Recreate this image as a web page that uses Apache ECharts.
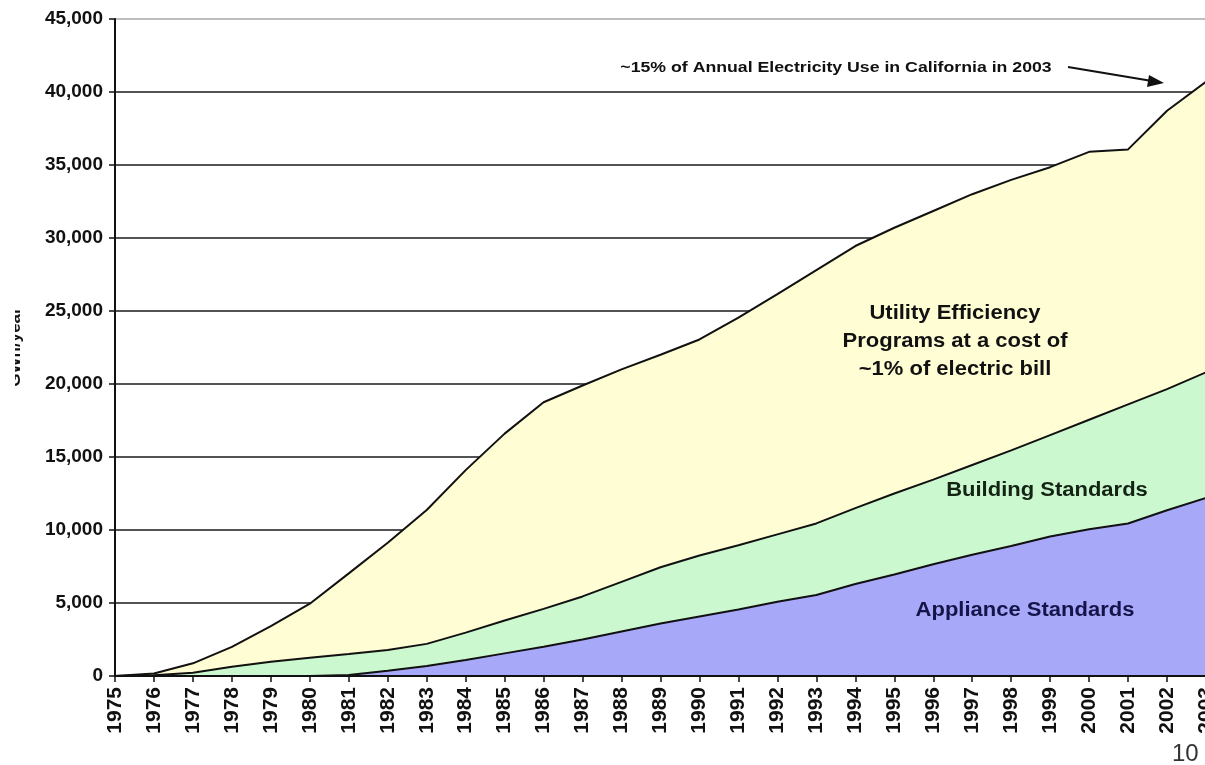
<!DOCTYPE html>
<html>
<head>
<meta charset="utf-8">
<script src="https://cdn.jsdelivr.net/npm/echarts@6/dist/echarts.min.js"></script>
<style>
  html, body { margin: 0; padding: 0; background: #ffffff; }
  #chart { width: 1205px; height: 765px; }
</style>
</head>
<body>
<div id="chart"></div>
<script>
// ---- Data (GWh/year, cumulative savings) ----
const years = ['1975','1976','1977','1978','1979','1980','1981','1982','1983','1984',
  '1985','1986','1987','1988','1989','1990','1991','1992','1993','1994',
  '1995','1996','1997','1998','1999','2000','2001','2002','2003'];

// Top boundary: total savings (appliance + building + utility programs)
const totalSavings = [0, 170, 870, 2000, 3420, 4950, 7030, 9130, 11370, 14100,
  16600, 18750, 19900, 21000, 22000, 23050, 24550, 26150, 27800, 29450,
  30700, 31850, 33000, 33980, 34850, 35900, 36070, 38720, 40700];

// Middle boundary: appliance + building standards
const standardsSavings = [0, 50, 230, 640, 980, 1250, 1500, 1780, 2200, 2970,
  3800, 4600, 5450, 6450, 7450, 8250, 8950, 9700, 10450, 11500,
  12500, 13450, 14450, 15450, 16500, 17550, 18600, 19650, 20800];

// Bottom boundary: appliance standards
const applianceSavings = [0, 0, 0, 0, 0, 0, 70, 360, 690, 1100,
  1550, 2000, 2500, 3050, 3600, 4080, 4550, 5080, 5550, 6300,
  6950, 7650, 8300, 8900, 9550, 10050, 10450, 11350, 12200];

const yTicks = [0, 5000, 10000, 15000, 20000, 25000, 30000, 35000, 40000, 45000];

const labels = {
  utility: ['Utility Efficiency', 'Programs at a cost of', '~1% of electric bill'],
  building: 'Building Standards',
  appliance: 'Appliance Standards',
  note: '~15% of Annual Electricity Use in California in 2003',
  axisName: 'GWh/year',
  page: '10'
};

// ---- Chart ----
const chart = echarts.init(document.getElementById('chart'), null, { renderer: 'canvas' });
const FONT = '"Liberation Sans", Arial, sans-serif';

const gridColors = yTicks.map((v, i) => i === yTicks.length - 1 ? '#a8a8a8' : '#1a1a1a');

const areaSeries = (name, data, color) => ({
  name: name,
  type: 'line',
  data: data,
  symbol: 'none',
  smooth: false,
  lineStyle: { color: '#111', width: 2 },
  areaStyle: { color: color, opacity: 1 },
  emphasis: { disabled: true },
  silent: true
});

const option = {
  animation: false,
  backgroundColor: '#ffffff',
  grid: { left: 115, right: -1, top: 19, bottom: 89, containLabel: false, outerBoundsMode: 'none' },
  xAxis: {
    type: 'category',
    data: years,
    boundaryGap: false,
    z: 10,
    axisLine: { show: true, lineStyle: { color: '#111', width: 2 } },
    axisTick: { show: true, inside: false, length: 6, interval: 0, lineStyle: { color: '#111', width: 1.5 } },
    axisLabel: {
      interval: 0, rotate: 90, margin: 11, hideOverlap: false,
      color: '#111', fontFamily: FONT, fontWeight: 'bold', fontSize: 21
    },
    splitLine: { show: false }
  },
  yAxis: {
    type: 'value',
    min: 0, max: 45000, interval: 5000,
    axisLine: { show: true, lineStyle: { color: '#111', width: 2 } },
    axisTick: { show: true, inside: false, length: 6, lineStyle: { color: '#111', width: 1.5 } },
    axisLabel: {
      margin: 12, color: '#111', fontFamily: FONT, fontWeight: 'bold', fontSize: 19,
      formatter: v => v.toLocaleString('en-US')
    },
    splitLine: { show: true, lineStyle: { color: gridColors, width: 1.6 } }
  },
  series: [
    areaSeries('Utility Efficiency Programs', totalSavings, '#fffdd3'),
    areaSeries('Building Standards', standardsSavings, '#ccf8d0'),
    areaSeries('Appliance Standards', applianceSavings, '#a8a8f8')
  ],
  graphic: [
    {
      type: 'text', x: 955, y: 341, z: 100, scaleX: 1.1,
      style: {
        text: labels.utility.join('\n'), fill: '#111', font: 'bold 20px ' + FONT,
        align: 'center', verticalAlign: 'middle', lineHeight: 28
      }
    },
    {
      type: 'text', x: 1047, y: 490, z: 100, scaleX: 1.1,
      style: { text: labels.building, fill: '#142414', font: 'bold 20px ' + FONT,
               align: 'center', verticalAlign: 'middle' }
    },
    {
      type: 'text', x: 1025, y: 610, z: 100, scaleX: 1.1,
      style: { text: labels.appliance, fill: '#14144a', font: 'bold 20px ' + FONT,
               align: 'center', verticalAlign: 'middle' }
    },
    {
      type: 'text', x: 836, y: 68, z: 100, scaleX: 1.18,
      style: { text: labels.note, fill: '#111', font: 'bold 15px ' + FONT,
               align: 'center', verticalAlign: 'middle' }
    },
    {
      type: 'line', z: 100,
      shape: { x1: 1068, y1: 67, x2: 1152, y2: 81 },
      style: { stroke: '#111', lineWidth: 2 }
    },
    {
      type: 'polygon', z: 100,
      shape: { points: [[1164, 83], [1149, 75], [1147, 87]] },
      style: { fill: '#111' }
    },
    {
      type: 'text', z: 100, x: 15, y: 347, rotation: Math.PI / 2,
      style: { text: labels.axisName, fill: '#111', font: 'bold 17px ' + FONT,
               align: 'center', verticalAlign: 'middle' }
    },
    {
      type: 'rect', z: 101,
      shape: { x: 0, y: 280, width: 15, height: 140 },
      style: { fill: '#ffffff' }
    },
    {
      type: 'text', left: 1172, top: 742, z: 100,
      style: { text: labels.page, fill: '#333', font: '24px ' + FONT }
    }
  ]
};

chart.setOption(option);
</script>
</body>
</html>
